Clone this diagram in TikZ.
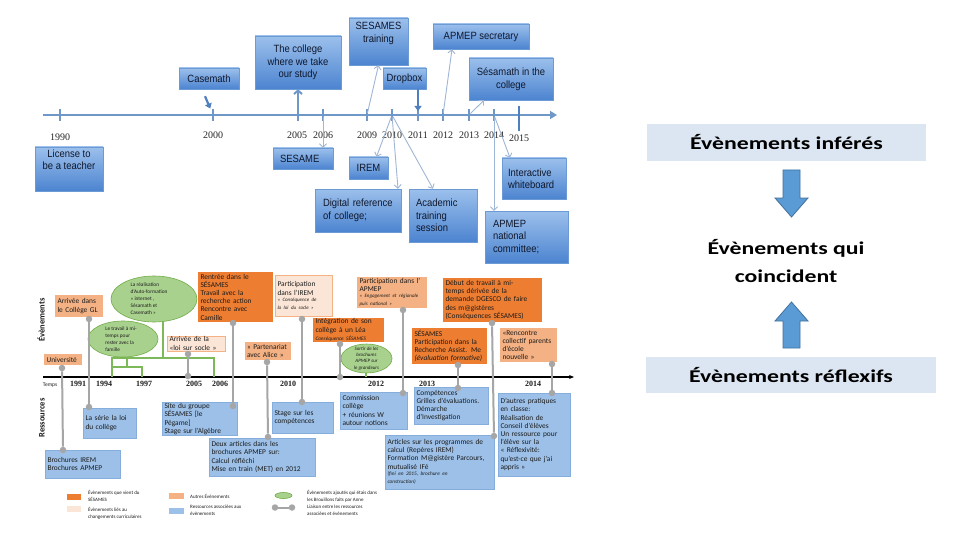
\documentclass[tikz,border=0pt]{standalone}
\usepackage{fontspec}
\setmainfont{Carlito}
\newfontfamily\topfont[FakeStretch=0.9]{Liberation Sans}
\newfontfamily\yearfont{Liberation Serif}
\newfontfamily\panelfont[FakeStretch=1.32]{Carlito}
\usetikzlibrary{shadows,arrows.meta,shapes.geometric}
\definecolor{tlblue}{HTML}{6F98C8}
\definecolor{tldark}{HTML}{4F7FBE}
\definecolor{arrgrey}{HTML}{9FB6D4}
\definecolor{boxtop}{HTML}{9CC0EC}
\definecolor{boxbot}{HTML}{4C84D0}
\definecolor{boxedge}{HTML}{6C9AD4}
\definecolor{topink}{HTML}{10182C}
\definecolor{ink}{HTML}{1C1C1C}
\definecolor{orS}{HTML}{ED7D31}
\definecolor{orA}{HTML}{F4B183}
\definecolor{orC}{HTML}{FBE5D6}
\definecolor{resB}{HTML}{9CC0E8}
\definecolor{resE}{HTML}{85AEDC}
\definecolor{greenF}{HTML}{A9D18E}
\definecolor{greenD}{HTML}{70AD47}
\definecolor{gline}{HTML}{7DB85A}
\definecolor{linkgrey}{HTML}{A6A6A6}
\definecolor{panelbg}{HTML}{DCE6F2}
\definecolor{barrF}{HTML}{5B9BD5}
\definecolor{barrE}{HTML}{41719C}
\tikzset{
  tlinest/.style={line width=2.6pt, draw=tlblue, -{Triangle[length=7pt,width=8pt]}},
  tickst/.style={line width=1.6pt, draw=tlblue},
  topbox/.style={rectangle, draw=boxedge, line width=0.4pt, top color=boxtop, bottom color=boxbot,
    drop shadow={opacity=0.35, shadow xshift=1.3pt, shadow yshift=-1.3pt},
    font=\topfont\fontsize{10.5}{12.5}\selectfont, text=topink, inner sep=2pt, align=center},
  topyear/.style={font=\yearfont\fontsize{10}{12}\selectfont, text=black!85, inner sep=0},
  arrlight/.style={line width=0.9pt, draw=arrgrey, -{Straight Barb[length=3.5pt,width=7pt]}, shorten <=2pt},
  arrbold/.style={line width=2pt, draw=tlblue, -{Straight Barb[length=3.5pt,width=8pt]}, shorten <=2pt},
  arrdark/.style={line width=2.2pt, draw=tldark, -{Triangle[length=5pt,width=7pt]}},
  evbase/.style={rectangle, inner xsep=2.5pt, inner ysep=1pt, align=left, font=\fontsize{7.4}{8.2}\selectfont, text=ink},
  evs/.style={evbase, fill=orS},
  eva/.style={evbase, fill=orA},
  evc/.style={evbase, fill=orC, draw=orA, line width=0.6pt},
  resbox/.style={evbase, fill=resB, draw=resE, line width=0.6pt},
  ellg/.style={ellipse, fill=greenF, draw=greenD, line width=0.6pt, inner sep=0},
  etext/.style={align=left, font=\fontsize{5.3}{7}\selectfont, text=ink, inner sep=0},
  linkst/.style={line width=2pt, draw=linkgrey},
  dotst/.style={circle, fill=linkgrey, inner sep=0, minimum size=6.5pt},
  gbr/.style={line width=1.3pt, draw=gline},
  btline/.style={line width=1.1pt, draw=black, -{Stealth[length=5pt,width=4pt]}},
  byear/.style={font=\yearfont\bfseries\fontsize{8}{9}\selectfont, inner sep=0, text=ink},
  legtext/.style={anchor=west, align=left, font=\fontsize{5}{6.8}\selectfont, text=ink, inner sep=0},
  sidelab/.style={rotate=90, font=\bfseries\fontsize{8.5}{10}\selectfont, inner sep=0, text=ink},
  rbox/.style={rectangle, fill=panelbg, font=\panelfont\bfseries\fontsize{18}{28}\selectfont, inner sep=0},
  rtext/.style={font=\panelfont\bfseries\fontsize{18}{28}\selectfont, align=center, inner sep=0},
  blockarr/.style={fill=barrF, draw=barrE, line width=0.8pt}
}
\begin{document}
\begin{tikzpicture}[x=1pt,y=-1pt]
\useasboundingbox (0,0) rectangle (960,540);
\fill[white] (0,0) rectangle (960,540);

% ---------------- top timeline ----------------
\coordinate (tlS) at (43,115);
\coordinate (tlE) at (557,115);
\draw[tlinest] (tlS) -- (tlE);
\foreach \x/\n in {60/1990,213/2000,298/2005,323/2006,367/2009,392/2010,418/2011,443/2012,469/2013,494/2014}{
  \coordinate (k\n) at (\x,115);
  \draw[tickst] (\x,109) -- (\x,121);
}
\coordinate (k2015) at (519,115);
\draw[line width=2.4pt, draw=tldark] (519,106) -- (519,131);

\node[topyear] (y1990) at (60,137) {1990};
\node[topyear] (y2000) at (213,135) {2000};
\node[topyear] (y2005) at (297,135) {2005};
\node[topyear] (y2006) at (323,135) {2006};
\node[topyear] (y2009) at (367,135) {2009};
\node[topyear] (y2010) at (392,135) {2010};
\node[topyear] (y2011) at (418,135) {2011};
\node[topyear] (y2012) at (443,135) {2012};
\node[topyear] (y2013) at (469,135) {2013};
\node[topyear] (y2014) at (494,135) {2014};
\node[topyear] (y2015) at (519,138) {2015};

% top boxes
\node[topbox, minimum width=60pt, minimum height=21pt] (casemath) at (209,78.5) {Casemath};
\node[topbox, minimum width=86pt, minimum height=53pt] (college) at (298,62.5) {The college\\where we take\\our study};
\node[topbox, minimum width=59pt, minimum height=47pt] (sesamest) at (378.5,41.5) {SESAMES\\training\\[6pt]};
\node[topbox, minimum width=43pt, minimum height=21pt] (dropbox) at (404.5,78.5) {Dropbox};
\node[topbox, minimum width=96pt, minimum height=25pt] (apmepsec) at (481,36.5) {APMEP secretary};
\node[topbox, minimum width=84pt, minimum height=42pt] (sesamath) at (511,79) {Sésamath in the\\college};
\node[topbox, minimum width=68pt, minimum height=44pt] (license) at (69,169) {License to\\be a teacher\\[6pt]};
\node[topbox, minimum width=60pt, minimum height=21pt, text width=46pt, align=left] (sesame) at (303,158.5) {SESAME};
\node[topbox, minimum width=39pt, minimum height=22pt] (irem) at (368.5,168) {IREM};
\node[topbox, minimum width=86pt, minimum height=43pt, text width=70pt, align=left] (digital) at (358,210.5) {Digital reference\\of college;\\[4pt]};
\node[topbox, minimum width=68pt, minimum height=53pt, text width=54pt, align=left] (academic) at (443,215.5) {Academic\\training\\session};
\node[topbox, minimum width=64pt, minimum height=41pt, text width=52pt, align=left] (interactive) at (534,178.5) {Interactive\\whiteboard\\[4pt]};
\node[topbox, minimum width=83pt, minimum height=52pt, text width=67pt, align=left] (apmepnat) at (526.5,237) {APMEP\\national\\committee;};

% top arrows
\draw[arrdark, shorten >=7pt] ([xshift=-4pt,yshift=-7pt]casemath.south) -- (k2000);
\draw[arrbold] (k2005) -- (college.south);
\draw[arrlight] (k2009) -- (sesamest.south);
\draw[arrdark, shorten >=4pt] (dropbox.south -| k2011) -- (k2011);
\draw[arrlight] (k2012) -- ([xshift=-29pt]apmepsec.south);
\draw[arrlight] (k2013) -- ([xshift=-27pt]sesamath.south);
\draw[arrlight] (k2006) -- (sesame.north -| k2006);
\draw[arrlight] (k2010) -- ([xshift=8pt]irem.north);
\draw[arrlight] (k2010) -- ([xshift=40pt]digital.north);
\draw[arrlight] (k2010) -- ([xshift=-10pt]academic.north);
\draw[arrlight] (k2014) -- ([xshift=-24pt]interactive.north);
\draw[arrlight] (k2014) -- (apmepnat.north -| k2014);

% ---------------- right panel ----------------
\node[rbox, minimum width=279pt, minimum height=37pt] (inferes) at (786.5,142.5) {Évènements inférés};
\node[rtext] (coinc) at (786,261) {Évènements qui\\coincident};
\node[rbox, minimum width=290pt, minimum height=36pt] (reflex) at (791,375) {Évènements réflexifs};
\draw[blockarr] (783,170) -- (800,170) -- (800,198) -- (808,198) -- (791.5,217) -- (775,198) -- (783,198) -- cycle;
\draw[blockarr] (791.5,302) -- (808,321) -- (800,321) -- (800,348) -- (783,348) -- (783,321) -- (775,321) -- cycle;

% ---------------- bottom timeline ----------------
\coordinate (bS) at (43,377);
\coordinate (bE) at (574,377);
\draw[btline] (bS) -- (bE);
\node[font=\fontsize{5.5}{6}\selectfont, inner sep=0, text=ink] (temps) at (50,385) {Temps};
\node[byear] (b1991) at (78,384) {1991};
\node[byear] (b1994) at (104,384) {1994};
\node[byear] (b1997) at (144,384) {1997};
\node[byear] (b2005) at (194,384) {2005};
\node[byear] (b2006) at (220,384) {2006};
\node[byear] (b2010) at (288,384) {2010};
\node[byear] (b2012) at (376,384) {2012};
\node[byear] (b2013) at (427,384) {2013};
\node[byear] (b2014) at (533,384) {2014};
\node[sidelab] (labev) at (41,320) {Évènements};
\node[sidelab] (labres) at (42,418) {Ressources};

% green brackets
\draw[gbr] (112,377) -- (112,358) -- (214,358) -- (214,377);
\draw[gbr] (163,322) -- (163,358);
\draw[gbr] (112,367) -- (142,367) -- (142,377);
\draw[gbr] (127,356) -- (127,367);
\draw[gbr] (366,372) -- (366,377);

% green ellipses
\node[ellg, minimum width=86pt, minimum height=46pt] (ell1) at (154,299) {};
\node[etext] (ell1t) at (149,299) {La réalisation\\d'Auto-formation\\« internet ,\\Sésamath et\\Casemath »};
\node[ellg, minimum width=70pt, minimum height=36pt] (ell2) at (123,339) {};
\node[etext] (ell2t) at (121,339) {Le travail à mi-\\temps pour\\rester avec la\\famille};
\node[ellg, minimum width=51pt, minimum height=29pt] (ell3) at (366.5,358.5) {};
\node[etext, align=center, font=\itshape\fontsize{5}{6.3}\selectfont] (ell3t) at (366.5,358.5) {Sortir de les\\brochures\\APMEP sur\\le grandeurs};

% event boxes
\node[eva, minimum width=38pt, minimum height=11pt, text width=33pt] (univ) at (63,359.5) {Université};
\node[eva, minimum width=48pt, minimum height=22pt, text width=43pt] (arrivee) at (79,306) {Arrivée dans\\le Collège GL};
\node[evc, minimum width=58pt, minimum height=15pt, text width=53pt] (loi) at (196,343.5) {Arrivée de la\\«loi sur socle »};
\node[evs, minimum width=75pt, minimum height=50pt, text width=70pt] (rentree) at (235.5,297) {Rentrée dans le\\SÉSAMES\\Travail avec la\\recherche action\\Rencontre avec\\Camille};
\node[eva, minimum width=45pt, minimum height=18pt, text width=41pt] (alice) at (267.5,351) {« Partenariat\\avec Alice »};
\node[evc, minimum width=57pt, minimum height=41pt, text width=52pt] (irem2) at (303.5,295.5) {Participation\\dans l'IREM\par\fontsize{5}{6}\selectfont\itshape « Conséquence de\\la loi du socle »};
\node[evs, minimum width=71pt, minimum height=24pt, text width=66pt] (integ) at (348.5,330) {Intégration de son\\collège à un Léa\par\fontsize{5.3}{6.3}\selectfont\itshape Conséquence SÉSAMES};
\node[eva, minimum width=70pt, minimum height=31pt, text width=65pt] (apmep2) at (392,292.5) {Participation dans l'\\APMEP\par\fontsize{5}{6}\selectfont\itshape « Engagement et régionale\\puis national »};
\node[evs, minimum width=75pt, minimum height=36pt, text width=70pt] (assist) at (449.5,346) {SÉSAMES\\Participation dans la\\Recherche Assist. Me\par\itshape (évaluation formative)};
\node[evs, minimum width=99pt, minimum height=44pt, text width=94pt] (debut) at (492.5,300) {Début de travail à mi-\\temps dérivée de la\\demande DGESCO de faire\\des m@gistères\\(Conséquences SÉSAMES)};
\node[eva, minimum width=57pt, minimum height=34pt, text width=52pt] (rencontre) at (528.5,345) {«Rencontre\\collectif parents\\d'école\\nouvelle »};

% resource boxes
\node[resbox, minimum width=75pt, minimum height=28pt, text width=70pt] (brochures) at (82.5,464) {Brochures IREM\\Brochures APMEP};
\node[resbox, minimum width=53pt, minimum height=30pt, text width=48pt] (serie) at (109.5,423) {La série la loi\\du collège};
\node[resbox, minimum width=75pt, minimum height=32pt, text width=70pt] (site) at (199.5,419) {Site du groupe\\SÉSAMES [le\\Pégame]\\Stage sur l'Algèbre};
\node[resbox, minimum width=61pt, minimum height=31pt, text width=56pt] (stage) at (302.5,417.5) {Stage sur les\\compétences};
\node[resbox, minimum width=106pt, minimum height=38pt, text width=101pt] (deux) at (262,457) {Deux articles dans les\\brochures APMEP sur:\\Calcul réfléchi\\Mise en train (MET) en 2012};
\node[resbox, minimum width=67pt, minimum height=37pt, text width=62pt] (commission) at (373.5,410.5) {Commission\\collège\\+ réunions W\\autour notions};
\node[resbox, minimum width=74pt, minimum height=37pt, text width=69pt] (compet) at (451,405.5) {Compétences\\Grilles d'évaluations.\\Démarche\\d'Investigation};
\node[resbox, minimum width=109pt, minimum height=54pt, text width=104pt] (articles) at (439.5,462) {Articles sur les programmes de\\calcul (Repères IREM)\\Formation M@gistère Parcours,\\mutualisé IFé\par\fontsize{5.3}{6.5}\selectfont\itshape (fini en 2015, brochure en\\construction)};
\node[resbox, minimum width=72pt, minimum height=83pt, text width=67pt] (autres) at (534,434.5) {D'autres pratiques\\en classe:\\Réalisation de\\Conseil d'élèves\\Un ressource pour\\l'élève sur la\\« Réflexivité:\\qu'est-ce que j'ai\\appris »};

% links (dumbbells)
\foreach \a/\b/\xa/\ya/\xb/\yb in {
  du1/dl1/62/368/63/450,
  du2/dl2/89/319/89/407,
  du3/dl3/188/354/188/376,
  du4/dl4/233/323/233/406,
  du5/dl5/267/362/268/437,
  du6/dl6/302/319/302/402,
  du7/dl7/340/344/340/377,
  du8/dl8/403/310/403/393,
  du9/dl9/458/365/458/388,
  du10/dl10/492/323/494/436,
  du11/dl11/552/364/552/393}{
  \node[dotst] (\a) at (\xa,\ya) {};
  \node[dotst] (\b) at (\xb,\yb) {};
  \draw[linkst] (\a) -- (\b);
}

% legend
\fill[orS] (67,494) rectangle (81,499.5);
\node[legtext] (lg1) at (88,496) {Évènements que vient du\\SÉSAMES};
\fill[orC] (67,506) rectangle (81,511.5);
\node[legtext] (lg2) at (88,513) {Évènements liés au\\changements curriculaires};
\fill[orA] (169,493) rectangle (184,498.5);
\node[legtext] (lg3) at (190,496) {Autres Évènements};
\fill[resB] (169,508) rectangle (184,514);
\node[legtext] (lg4) at (190,510) {Ressources associées aux\\évènements};
\node[ellg, minimum width=17pt, minimum height=6pt] (lgell) at (283.5,495.5) {};
\node[legtext] (lg5) at (307,496.5) {Évènements ajoutés qui étais dans\\les Brouillons faits par Anne};
\node[dotst] (lgd1) at (275,507.5) {};
\node[dotst] (lgd2) at (292,507.5) {};
\draw[linkst] (lgd1) -- (lgd2);
\node[legtext] (lg6) at (307,510) {Liaison entre les ressources\\associées et évènements};
\end{tikzpicture}
\end{document}
